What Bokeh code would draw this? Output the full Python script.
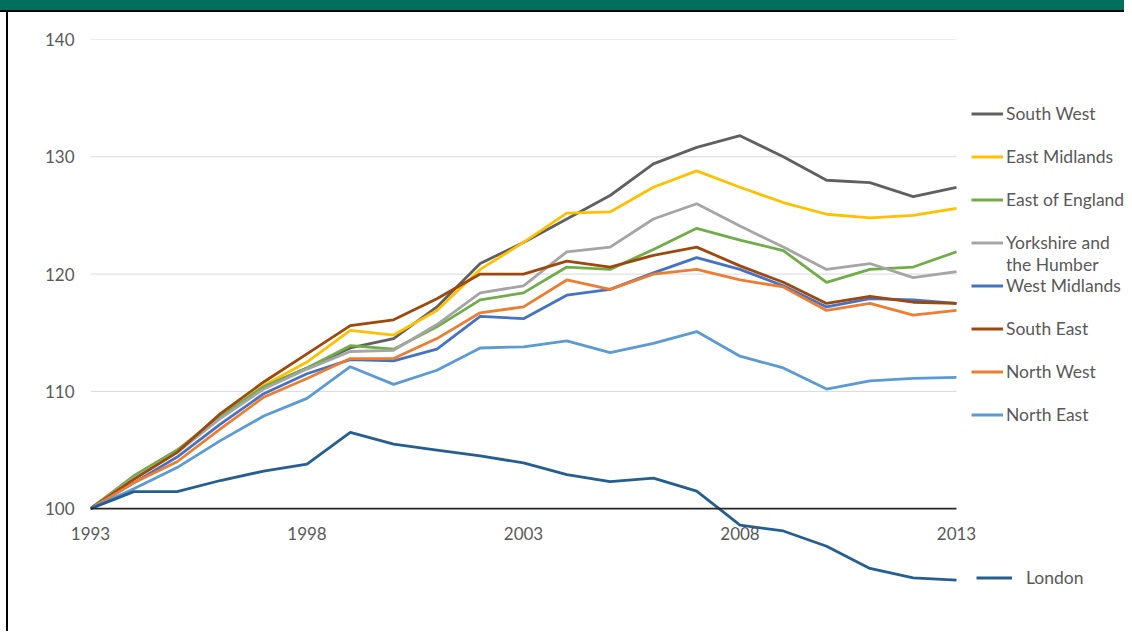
from bokeh.plotting import figure
from bokeh.models import Range1d, FixedTicker, Legend, LegendItem, Div
from bokeh.layouts import column, row
from bokeh.embed import file_html
from bokeh.resources import INLINE

years = list(range(1993, 2014))

south_west = [100, 102.6, 104.9, 107.8, 110.4, 112.0, 113.7, 114.5, 117.2, 120.9, 122.7,
              124.7, 126.7, 129.4, 130.8, 131.8, 130.0, 128.0, 127.8, 126.6, 127.4]
east_midlands = [100, 102.5, 104.8, 107.8, 110.5, 112.5, 115.2, 114.8, 116.9, 120.4, 122.7,
                 125.2, 125.3, 127.4, 128.8, 127.4, 126.1, 125.1, 124.8, 125.0, 125.6]
east_of_england = [100, 102.8, 105.0, 107.9, 110.4, 112.0, 113.9, 113.6, 115.5, 117.8, 118.4,
                   120.6, 120.4, 122.1, 123.9, 122.9, 122.0, 119.3, 120.4, 120.6, 121.9]
yorkshire = [100, 102.6, 104.8, 107.7, 110.2, 111.9, 113.4, 113.5, 115.7, 118.4, 119.0,
             121.9, 122.3, 124.7, 126.0, 124.1, 122.3, 120.4, 120.9, 119.7, 120.2]
west_midlands = [100, 102.2, 104.4, 107.2, 109.8, 111.5, 112.7, 112.6, 113.6, 116.4, 116.2,
                 118.2, 118.7, 120.1, 121.4, 120.4, 119.0, 117.2, 117.9, 117.8, 117.5]
south_east = [100, 102.5, 104.8, 108.1, 110.8, 113.2, 115.6, 116.1, 117.9, 120.0, 120.0,
              121.1, 120.6, 121.6, 122.3, 120.7, 119.3, 117.5, 118.1, 117.6, 117.5]
north_west = [100, 102.2, 104.0, 106.8, 109.5, 111.1, 112.8, 112.8, 114.5, 116.7, 117.2,
              119.5, 118.7, 120.0, 120.4, 119.5, 118.9, 116.9, 117.5, 116.5, 116.9]
north_east = [100, 101.7, 103.5, 105.8, 107.9, 109.4, 112.1, 110.6, 111.8, 113.7, 113.8,
              114.3, 113.3, 114.1, 115.1, 113.0, 112.0, 110.2, 110.9, 111.1, 111.2]
london = [100, 101.45, 101.45, 102.4, 103.2, 103.8, 106.5, 105.5, 105.0, 104.5, 103.9,
          102.9, 102.3, 102.6, 101.5, 98.6, 98.1, 96.8, 94.9, 94.1, 93.9]

series_names = ["South West", "East Midlands", "East of England", "Yorkshire and",
                "West Midlands", "South East", "North West", "North East"]
yorkshire_second_line = "the Humber"
series_values = [south_west, east_midlands, east_of_england, yorkshire,
                 west_midlands, south_east, north_west, north_east]
series_colors = ["#606060", "#FFC000", "#70AD47", "#A5A5A5",
                 "#4472C4", "#9E480E", "#ED7D31", "#5B9BD5"]
london_color = "#255E91"

x_ticks = [1993, 1998, 2003, 2008, 2013]
y_ticks = [100, 110, 120, 130, 140]
grid_ticks = [110, 120, 130, 140]
baseline = 100

FONT = "Lato"
TXT = "#595959"

# plot frame spans 1993..2013 over 866 px; extra room on the right holds the legend
px_per_year = 866 / (x_ticks[-1] - x_ticks[0])
x_end = x_ticks[-1] + 168 / px_per_year

p = figure(width=1116, height=619, output_backend="svg", toolbar_location=None,
           title=None, x_range=Range1d(x_ticks[0], x_end), y_range=Range1d(92, 140),
           min_border_left=82, min_border_right=0, min_border_top=27, min_border_bottom=29)
p.outline_line_alpha = 0
p.background_fill_color = "white"
p.border_fill_color = "white"
p.xgrid.visible = False
p.ygrid.visible = False

# horizontal gridlines limited to the data span
p.segment(x0=[x_ticks[0]] * len(grid_ticks), x1=[x_ticks[-1]] * len(grid_ticks),
          y0=grid_ticks, y1=grid_ticks, line_color="#D9D9D9", line_width=1)

p.yaxis.ticker = FixedTicker(ticks=y_ticks)
p.yaxis.axis_line_alpha = 0
p.yaxis.major_tick_line_alpha = 0
p.yaxis.minor_tick_line_alpha = 0
p.yaxis.major_tick_out = 0
p.yaxis.major_label_standoff = 16
p.yaxis.major_label_text_font = FONT
p.yaxis.major_label_text_font_size = "17px"
p.yaxis.major_label_text_color = TXT

p.xaxis.ticker = FixedTicker(ticks=x_ticks)
p.xaxis.axis_line_alpha = 0
p.xaxis.major_tick_line_alpha = 0
p.xaxis.minor_tick_line_alpha = 0
p.xaxis.major_tick_out = 0
p.xaxis.major_tick_in = 0
p.xaxis.major_label_standoff = -76
p.xaxis.major_label_text_font = FONT
p.xaxis.major_label_text_font_size = "17px"
p.xaxis.major_label_text_color = TXT

items = []
yorkshire_renderer = None
for name, vals, col in zip(series_names, series_values, series_colors):
    r = p.line(years, vals, line_color=col, line_width=2.8)
    items.append(LegendItem(label=name, renderers=[r]))
    if vals is yorkshire:
        yorkshire_renderer = r
rl = p.line(years, london, line_color=london_color, line_width=2.8)
# transparent twin of the Yorkshire line, used only to carry the legend's second text line
r_twin = p.line(years, yorkshire, line_alpha=0)

# category axis line at 100
p.segment(x0=[x_ticks[0]], x1=[x_ticks[-1]], y0=[baseline], y1=[baseline],
          line_color="#262626", line_width=1.6)

def style_legend(lg):
    lg.label_text_font = FONT
    lg.label_text_font_size = "17.5px"
    lg.label_text_color = TXT
    lg.border_line_alpha = 0
    lg.background_fill_alpha = 0
    lg.padding = 0
    lg.margin = 0
    lg.label_height = 21
    lg.glyph_height = 21

legend = Legend(items=items, location=(881, 177), spacing=22, glyph_width=32, label_standoff=3)
style_legend(legend)
p.add_layout(legend)

legend_b = Legend(items=[LegendItem(label=yorkshire_second_line, renderers=[r_twin])],
                  location=(881, 327), glyph_width=32, label_standoff=3)
style_legend(legend_b)
p.add_layout(legend_b)

legend2 = Legend(items=[LegendItem(label="London", renderers=[rl])], location=(886, 14),
                 glyph_width=36, label_standoff=14)
style_legend(legend2)
p.add_layout(legend2)

band = Div(text="", width=1124, height=12, margin=0,
           styles={"background-color": "#006F5B", "border-bottom": "2px solid #000",
                   "box-sizing": "border-box"})
gap = Div(text="", width=6, height=619, margin=0)
edge = Div(text="", width=2, height=619, margin=0, styles={"background-color": "#000"})

layout = column(band, row(gap, edge, p, spacing=0), spacing=0)
open("out.html", "w").write(file_html(layout, INLINE))
